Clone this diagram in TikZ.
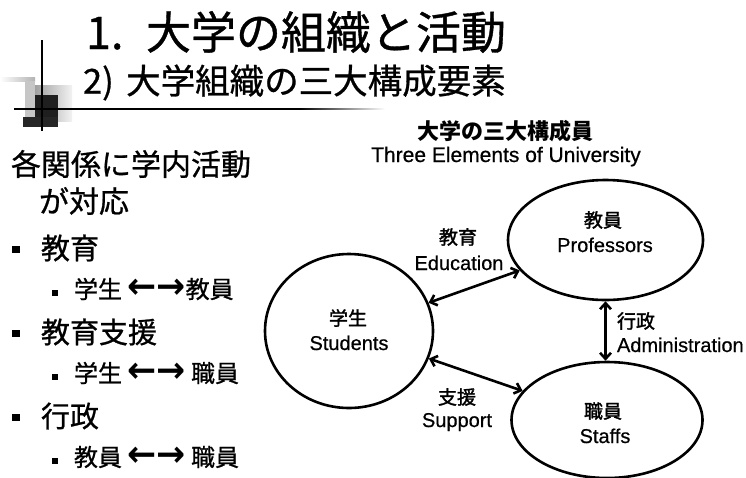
\documentclass[tikz,border=0pt]{standalone}
\usepackage{fontspec}
\usepackage{graphicx}
\setmainfont{Liberation Sans}
\newfontfamily\jp[FakeBold=0.8]{Noto Sans CJK JP}
\newfontfamily\jpbold{Noto Sans CJK JP}
\newfontfamily\jplab[FakeBold=1.6]{Noto Sans CJK JP}
\newfontfamily\enlab[FakeBold=0.6]{Liberation Sans}
\newfontfamily\arrfont{DejaVu Sans}
\usetikzlibrary{shapes.geometric,arrows.meta}
\newcommand\myfs[1]{\fontsize{#1}{#1}\selectfont}
\newcommand\duoarrow{{\arrfont\bfseries\scalebox{1.45}[1.5]{←→}}}
\begin{document}
\begin{tikzpicture}[x=1pt,y=-1pt,
  txt/.style={inner sep=0pt, outer sep=0pt},
  member/.style={draw, ellipse, line width=2.6pt, inner sep=0pt},
  rel/.style={line width=2.6pt, {Straight Barb[length=6pt,width=11pt]}-{Straight Barb[length=6pt,width=11pt]}},
  jl/.style={txt, font=\jplab\myfs{19}},
  el/.style={txt, font=\enlab\myfs{20}},
  bigb/.style={fill=black, inner sep=0pt, minimum size=7.5pt},
  smallb/.style={fill=black, inner sep=0pt, minimum size=6pt},
  lvone/.style={txt, anchor=west, font=\jp\myfs{29}},
  lvtwo/.style={txt, anchor=west, font=\jp\myfs{24}},
]
\useasboundingbox (0,0) rectangle (746,477);

% header decoration
\shade[left color=white, right color=gray!60] (0,77) rectangle (35,81);
\fill[gray!45] (25,81) rectangle (35,117);
\shade[left color=gray!75, right color=gray!10] (35,85) rectangle (72,121);
\fill[black!88] (35,95) rectangle (58,118);
\fill[black!85] (23,117) rectangle (58,127);
\draw[line width=1.6pt] (42,40) -- (42,131);
\draw[line width=1.8pt] (14,109) -- (300,109);
\shade[left color=black, right color=white] (300,108.1) rectangle (385,109.9);

% titles
\node[txt, anchor=west, font=\jp\myfs{45}] (title) at (86,32) {1.\hspace{0.5em}大学の組織と活動};
\node[txt, anchor=west, font=\jp\myfs{34.5}] (subtitle) at (83,82.5) {2)\hspace{0.36em}大学組織の三大構成要素};

% left list
\node[lvone, font=\jp\myfs{30}] (introa) at (11,164) {各関係に学内活動};
\node[lvone, font=\jp\myfs{30}] (introb) at (39,201) {が対応};
\node[bigb] (ba) at (16,249.5) {};
\node[lvone] (itema) at (41,248) {教育};
\node[smallb] (sa) at (55,293) {};
\node[lvtwo] (subitema) at (74,289) {学生 \duoarrow 教員};
\node[bigb] (bb) at (16,333.5) {};
\node[lvone] (itemb) at (41,332) {教育支援};
\node[smallb] (sb) at (55,377) {};
\node[lvtwo] (subitemb) at (74,373) {学生 \duoarrow{} 職員};
\node[bigb] (bc) at (16,417.5) {};
\node[lvone] (itemc) at (41,416) {行政};
\node[smallb] (sc) at (55,461) {};
\node[lvtwo] (subitemc) at (74,457) {教員 \duoarrow{} 職員};

% diagram
\node[txt, font=\jpbold\bfseries\myfs{22}] (dtitle) at (505,131.5) {大学の三大構成員};
\node[txt, anchor=base, font=\enlab\myfs{21}] (dtitleen) at (506,162) {Three Elements of University};

\node[member, minimum width=195pt, minimum height=120pt] (prof) at (605.5,240) {};
\node[member, minimum width=168pt, minimum height=154pt] (stud) at (349,331) {};
\node[member, minimum width=191pt, minimum height=116pt] (staff) at (607,420) {};

\node[jl] (profj) at (603,220) {教員};
\node[el, anchor=base] (profe) at (605,252) {Professors};
\node[jl] (studj) at (348,318) {学生};
\node[el, anchor=base] (stude) at (349,350) {Students};
\node[jl] (staffj) at (603,411) {職員};
\node[el, anchor=base] (staffe) at (605,443) {Staffs};
\node[jl] (eduj) at (458,237) {教育};
\node[el, anchor=base] (edue) at (459,270) {Education};
\node[jl] (supj) at (457,397) {支援};
\node[el, anchor=base] (supe) at (457,427) {Support};
\node[jl, anchor=west] (admj) at (617,321) {行政};
\node[el, anchor=base west] (adme) at (617,352) {Administration};

\draw[rel] (stud) -- (prof);
\draw[rel] (stud) -- (staff);
\draw[rel] (prof.south) -- (prof.south |- staff.north);
\end{tikzpicture}
\end{document}
